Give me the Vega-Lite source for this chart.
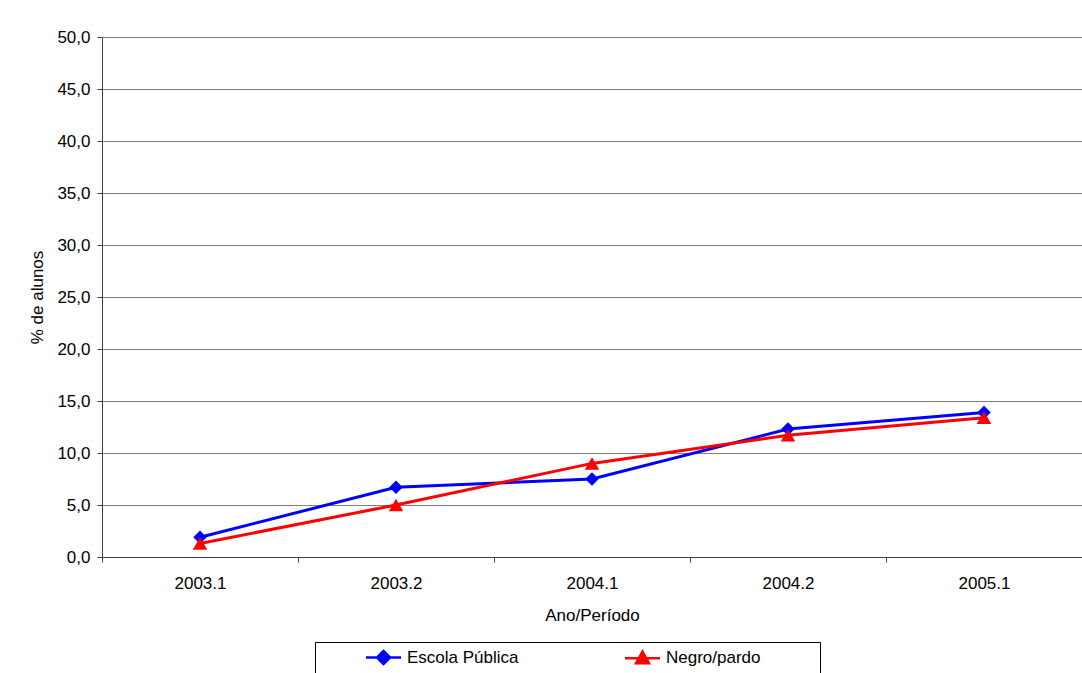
{
  "$schema": "https://vega.github.io/schema/vega-lite/v6.json",
  "width": 980,
  "height": 520,
  "autosize": {"type": "none"},
  "padding": {"left": 102, "top": 37, "right": 0, "bottom": 116},
  "background": "white",
  "config": {
    "font": "Liberation Sans",
    "view": {"stroke": null},
    "axis": {"labelFont": "Liberation Sans", "titleFont": "Liberation Sans", "labelFontSize": 17, "titleFontSize": 17, "titleFontWeight": "normal", "labelColor": "black", "titleColor": "black"}
  },
  "data": {
    "values": [
      {"periodo": "2003.1", "serie": "Escola Pública", "valor": 1.9},
      {"periodo": "2003.2", "serie": "Escola Pública", "valor": 6.7},
      {"periodo": "2004.1", "serie": "Escola Pública", "valor": 7.5},
      {"periodo": "2004.2", "serie": "Escola Pública", "valor": 12.3},
      {"periodo": "2005.1", "serie": "Escola Pública", "valor": 13.9},
      {"periodo": "2003.1", "serie": "Negro/pardo", "valor": 1.3},
      {"periodo": "2003.2", "serie": "Negro/pardo", "valor": 5.0},
      {"periodo": "2004.1", "serie": "Negro/pardo", "valor": 9.0},
      {"periodo": "2004.2", "serie": "Negro/pardo", "valor": 11.7},
      {"periodo": "2005.1", "serie": "Negro/pardo", "valor": 13.4}
    ]
  },
  "encoding": {
    "x": {
      "field": "periodo", "type": "nominal", "sort": null,
      "scale": {"type": "band", "paddingInner": 0, "paddingOuter": 0},
      "axis": {"title": "Ano/Período", "labelAngle": 0, "tickBand": "extent", "ticks": true, "tickSize": 5, "tickColor": "#404040", "domainColor": "#404040", "labelPadding": 13, "titlePadding": 16, "grid": false}
    },
    "y": {
      "field": "valor", "type": "quantitative",
      "scale": {"domain": [0, 50], "nice": false},
      "axis": {"title": "% de alunos", "values": [0,5,10,15,20,25,30,35,40,45,50], "labelExpr": "replace(format(datum.value, '.1f'), '.', ',')", "tickSize": 5, "tickColor": "#404040", "domainColor": "#404040", "gridColor": "#808080", "gridOpacity": 1, "labelPadding": 7, "titlePadding": 10}
    },
    "color": {
      "field": "serie", "type": "nominal",
      "scale": {"domain": ["Escola Pública", "Negro/pardo"], "range": ["#0000FF", "#FF0000"]},
      "legend": {
        "title": "\u00a0",
        "titleOrient": "left",
        "titlePadding": 53,
        "titleFontSize": 17,
        "orient": "none",
        "legendX": 213,
        "legendY": 605,
        "direction": "horizontal",
        "columns": 2,
        "columnPadding": 100,
        "padding": 7,
        "strokeColor": "black",
        "fillColor": "white",
        "labelFont": "Liberation Sans",
        "labelFontSize": 17,
        "labelColor": "black",
        "labelOffset": 15,
        "labelLimit": 400,
        "labelExpr": "datum.label === 'Negro/pardo' ? datum.label + '\u00a0\u00a0\u00a0\u00a0\u00a0\u00a0\u00a0\u00a0\u00a0\u00a0\u00a0\u200b' : datum.label",
        "symbolSize": 169,
        "symbolStrokeWidth": 2.5,
        "symbolType": "M-2.7,0H2.7M0,-1L1,0L0,1L-1,0Z",
        "encode": {
          "symbols": {
            "update": {
              "shape": {"signal": "datum.value === 'Escola Pública' ? 'M-2.7,0H2.7M0,-1L1,0L0,1L-1,0Z' : 'M-2.7,0H2.7M0,-1L1,0.8L-1,0.8Z'"},
              "fill": {"signal": "datum.value === 'Escola Pública' ? '#0000FF' : '#FF0000'"},
              "stroke": {"signal": "datum.value === 'Escola Pública' ? '#0000FF' : '#FF0000'"},
              "opacity": {"value": 1}
            }
          }
        }
      }
    }
  },
  "layer": [
    {
      "mark": {"type": "line", "strokeWidth": 3}
    },
    {
      "mark": {"type": "point", "filled": true, "opacity": 1},
      "encoding": {
        "shape": {"condition": {"test": "datum.serie === 'Negro/pardo'", "value": "triangle-up"}, "value": "diamond"},
        "size": {"condition": {"test": "datum.serie === 'Negro/pardo'", "value": 210}, "value": 180}
      }
    }
  ]
}
